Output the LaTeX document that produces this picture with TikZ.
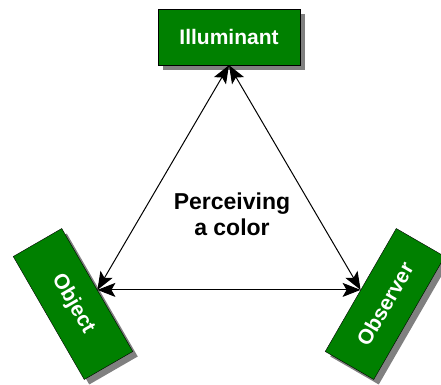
\documentclass[tikz,border=0pt]{standalone}
\usepackage{fontspec}
\setmainfont{Liberation Sans}
\usepackage{tikz}
\usetikzlibrary{arrows.meta}
\usetikzlibrary{shadows}
\definecolor{boxgreen}{RGB}{0,128,0}

\begin{document}
\begin{tikzpicture}[
      x=1pt, y=1pt,
      box_style/.style={draw=black, thin, fill=boxgreen, text=white,
        font=\bfseries\fontsize{21}{24}\selectfont,
        minimum width=142pt, minimum height=56pt, inner sep=0pt,
        drop shadow={shadow xshift=5pt, shadow yshift=-5pt, fill=gray, opacity=1}},
      link_style/.style={black, line width=1pt,
        {Stealth[length=18pt, width=14pt, inset=4pt]}-{Stealth[length=18pt, width=14pt, inset=4pt]}},
      title_lbl/.style={font=\bfseries\fontsize{23}{26}\selectfont, align=center}
  ]

  % 1. Area del disegno
  \useasboundingbox (0, 0) rectangle (441, 384);

  % 2. Riquadri verdi
  \node[box_style] (illuminant) at (229, 347) {Illuminant};
  \node[box_style, rotate=-60] (object) at (73, 80) {Object};
  \node[box_style, rotate=60] (observer) at (385, 80) {Observer};

  % 3. Frecce doppie
  \draw[link_style] (illuminant.south) -- (object.north);
  \draw[link_style] (illuminant.south) -- (observer.north);
  \draw[link_style] (object.north) -- (observer.north);

  % 4. Testo centrale
  \node[title_lbl] (perceiving) at (232, 170) {Perceiving\\a color};

  \end{tikzpicture}
\end{document}
